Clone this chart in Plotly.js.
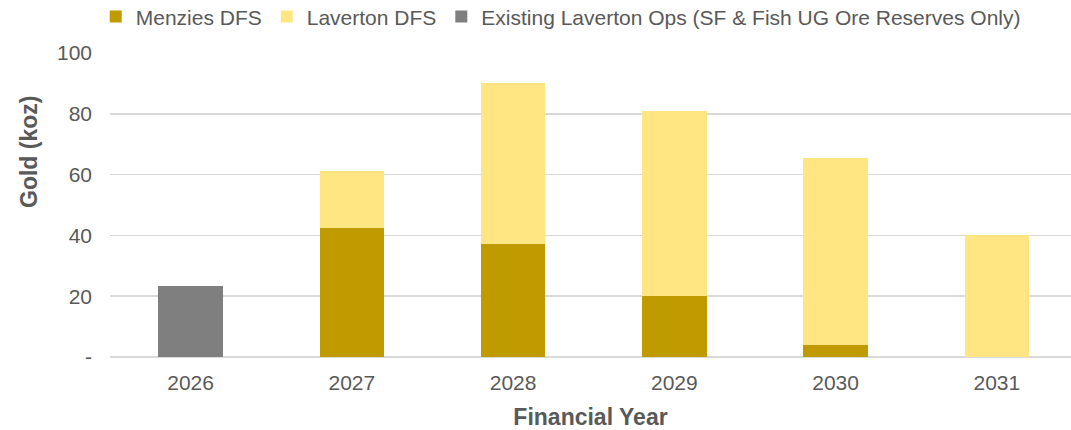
<!DOCTYPE html>
<html>
<head>
<meta charset="utf-8">
<script src="https://cdn.plot.ly/plotly-3.0.1.min.js"></script>
<style>html,body{margin:0;padding:0;background:#fff;overflow:hidden}#chart{width:1071px;height:430px}</style>
</head>
<body>
<div id="chart"></div>
<script>
const years = ['2026', '2027', '2028', '2029', '2030', '2031'];
const menziesDFS = [0, 42.6, 37.3, 20.2, 4.0, 0];
const lavertonDFS = [0, 18.5, 52.7, 60.8, 61.5, 40.2];
const existingOps = [23.4, 0, 0, 0, 0, 0];
const yTickVals = [0, 20, 40, 60, 80, 100];
const yTickText = ['-', '20', '40', '60', '80', '100'];

const FONT = 'Liberation Sans, Arial, sans-serif';
const TXT = '#595959';

const traces = [
  {type: 'bar', name: 'Menzies DFS', x: years, y: menziesDFS, marker: {color: '#bf9b00'}},
  {type: 'bar', name: 'Laverton DFS', x: years, y: lavertonDFS, marker: {color: '#ffe683'}},
  {type: 'bar', name: 'Existing Laverton Ops (SF & Fish UG Ore Reserves Only)', x: years, y: existingOps, marker: {color: '#7f7f7f'}}
];

const layout = {
  width: 1071, height: 430,
  barmode: 'stack',
  bargap: 0.6,
  paper_bgcolor: '#fff', plot_bgcolor: '#fff',
  font: {family: FONT, color: TXT, size: 21},
  margin: {l: 110, r: 0, t: 53, b: 73, pad: 0, autoexpand: false},
  showlegend: true,
  legend: {
    orientation: 'h', x: 0.469, xanchor: 'center', y: 1.186, yanchor: 'top',
    font: {family: FONT, color: TXT, size: 21}, traceorder: 'normal',
    itemclick: false, itemdoubleclick: false, bgcolor: 'rgba(0,0,0,0)'
  },
  xaxis: {
    type: 'category', range: [-0.5, 5.46],
    showgrid: false, zeroline: false, showline: false, ticks: '',
    tickfont: {family: FONT, color: TXT, size: 21},
    ticklabelstandoff: 11,
    title: {text: '<b>Financial Year</b>', font: {family: FONT, color: TXT, size: 23}, standoff: 15}
  },
  yaxis: {
    range: [0, 100], tickvals: yTickVals, ticktext: yTickText,
    showgrid: true, gridcolor: '#d9d9d9', gridwidth: 1.5,
    zeroline: true, zerolinecolor: '#d9d9d9', zerolinewidth: 1.5,
    showline: false, ticks: '',
    tickfont: {family: FONT, color: TXT, size: 21},
    ticklabelstandoff: 17
  },
  annotations: [
    {text: '<b>Gold (koz)</b>', textangle: -90, xref: 'paper', yref: 'paper',
     x: (29 - 110) / 961, y: (357 - 152) / 304, xanchor: 'center', yanchor: 'middle',
     showarrow: false, font: {family: FONT, color: TXT, size: 23}}
  ]
};

Plotly.newPlot('chart', traces, layout, {displayModeBar: false, staticPlot: true});
</script>
</body>
</html>
